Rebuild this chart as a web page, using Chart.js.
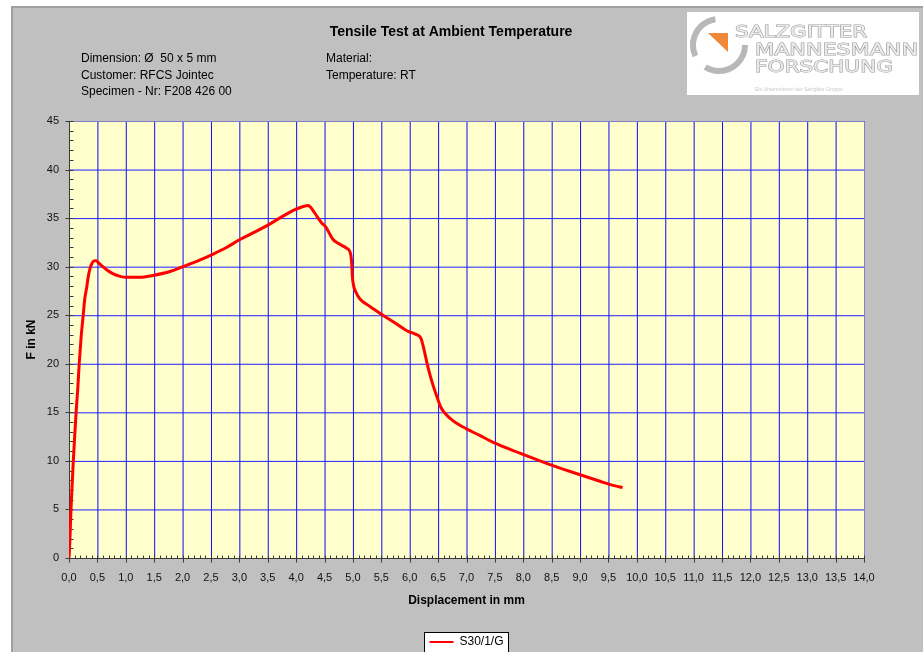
<!DOCTYPE html>
<html>
<head>
<meta charset="utf-8">
<script src="https://cdn.jsdelivr.net/npm/chart.js@4/dist/chart.umd.min.js"></script>
<style>
html,body{margin:0;padding:0;background:#fff;}
#wrap{width:923px;height:652px;position:relative;}
</style>
</head>
<body>
<div id="wrap"><canvas id="c" width="923" height="652"></canvas></div>
<script>
// ---- data ----
const seriesLabel = 'S30/1/G';
const displacementMm = [0,0.01,0.02,0.035,0.055,0.076,0.1,0.125,0.155,0.18,0.21,0.25,0.28,0.31,0.34,0.37,0.41,0.45,0.48,0.52,0.575,0.68,0.78,0.9,1.015,1.25,1.48,1.78,2.01,2.31,2.54,2.78,3.01,3.25,3.48,3.71,3.95,4.1,4.22,4.27,4.33,4.45,4.52,4.57,4.65,4.74,4.89,4.96,4.98,4.99,5.01,5.05,5.12,5.30,5.53,5.77,5.95,6.12,6.2,6.25,6.3,6.35,6.41,6.48,6.55,6.62,6.77,7.0,7.24,7.47,7.94,8.41,8.88,9.35,9.6,9.75];
const forceKN = [0,1,2.5,5,7.5,10,12.5,15,17.5,20,22.5,25,26.8,27.8,29,29.8,30.4,30.6,30.6,30.4,30.1,29.6,29.25,29.0,28.9,28.9,29.1,29.5,30.0,30.7,31.3,32.0,32.8,33.5,34.2,35.0,35.8,36.15,36.3,36.0,35.5,34.5,34.1,33.6,32.8,32.4,31.9,31.3,30.2,29,28.1,27.4,26.7,25.9,25.0,24.1,23.4,23.0,22.6,21.5,20.2,19.0,17.8,16.6,15.5,14.9,14.1,13.3,12.6,11.9,10.8,9.75,8.8,7.9,7.45,7.25];
const xMin = 0, xMax = 14, xStep = 0.5, xMinorStep = 0.1;
const yMin = 0, yMax = 45, yStep = 5, yMinorStep = 1;
const chartTitle = 'Tensile Test at Ambient Temperature';
const headerLeft = ['Dimension: Ø  50 x 5 mm', 'Customer: RFCS Jointec', 'Specimen - Nr: F208 426 00'];
const headerRight = ['Material:', 'Temperature: RT'];
const xAxisTitle = 'Displacement in mm';
const yAxisTitle = 'F in kN';
const logoLines = ['SALZGITTER', 'MANNESMANN', 'FORSCHUNG'];
const logoTagline = 'Ein Unternehmen der Salzgitter Gruppe';

const points = displacementMm.map((x, i) => ({x: x, y: forceKN[i]}));
const FONT = '"Liberation Sans", Arial, sans-serif';

const decor = {
  id: 'decor',
  beforeDraw(chart) {
    const ctx = chart.ctx;
    const W = chart.width, H = chart.height;
    ctx.save();
    ctx.fillStyle = '#ffffff';
    ctx.fillRect(0, 0, W, H);
    ctx.fillStyle = '#c0c0c0';
    ctx.fillRect(11, 6, W - 11, H - 6);
    ctx.strokeStyle = '#a0a0a0';
    ctx.lineWidth = 2;
    ctx.beginPath();
    ctx.moveTo(12, H); ctx.lineTo(12, 7); ctx.lineTo(W, 7);
    ctx.stroke();
    // plot background
    const a = chart.chartArea;
    ctx.fillStyle = '#ffffcc';
    ctx.fillRect(a.left, a.top, a.right - a.left, a.bottom - a.top);
    // legend box
    const lg = chart.legend;
    if (lg && lg.legendHitBoxes && lg.legendHitBoxes.length) {
      const hb = lg.legendHitBoxes[0];
      const bx = Math.round(hb.left - 5) + 0.5, by = Math.round(hb.top - 4) + 0.5;
      const bw = Math.round(hb.width + 10);
      ctx.fillStyle = '#ffffff';
      ctx.fillRect(bx, by, bw, H - by + 5);
      ctx.strokeStyle = '#000000';
      ctx.lineWidth = 1;
      ctx.strokeRect(bx, by, bw, H - by + 5);
    }
    // header text
    ctx.fillStyle = '#000';
    ctx.textBaseline = 'middle';
    ctx.textAlign = 'center';
    ctx.font = 'bold 14px ' + FONT;
    ctx.fillText(chartTitle, 451, 32);
    ctx.textAlign = 'left';
    ctx.font = '12px ' + FONT;
    headerLeft.forEach((t, i) => ctx.fillText(t, 81, 59 + i * 16.5));
    headerRight.forEach((t, i) => ctx.fillText(t, 326, 59 + i * 16.5));
    // logo
    ctx.fillStyle = '#ffffff';
    ctx.fillRect(687, 12, 232, 83);
    ctx.strokeStyle = '#b8b8b8';
    ctx.lineWidth = 6;
    ctx.lineCap = 'butt';
    ctx.beginPath();
    ctx.arc(719, 45, 26, Math.PI * 155 / 180, Math.PI * 262 / 180);
    ctx.stroke();
    ctx.beginPath();
    ctx.arc(719, 45, 26, Math.PI * 0 / 180, Math.PI * 122 / 180);
    ctx.stroke();
    ctx.fillStyle = '#f0883a';
    ctx.beginPath();
    ctx.moveTo(708, 33); ctx.lineTo(728, 33); ctx.lineTo(728, 52); ctx.closePath();
    ctx.fill();
    const drawWide = (txt, x, y, w, size) => {
      ctx.save();
      ctx.font = size + 'px "DejaVu Sans", sans-serif';
      const mw = ctx.measureText(txt).width;
      ctx.translate(x, y);
      ctx.scale(w / mw, 1);
      ctx.textAlign = 'left';
      ctx.textBaseline = 'alphabetic';
      ctx.lineWidth = 1;
      ctx.strokeStyle = '#9a9a9a';
      ctx.strokeText(txt, 0, 0);
      ctx.fillStyle = '#ececec';
      ctx.fillText(txt, 0, 0);
      ctx.restore();
    };
    drawWide(logoLines[0], 735, 37, 132, 16);
    drawWide(logoLines[1], 755, 55, 163, 16);
    drawWide(logoLines[2], 755, 72, 138, 16);
    ctx.fillStyle = '#c8c8c8';
    ctx.font = '5px ' + FONT;
    ctx.textBaseline = 'middle';
    ctx.textAlign = 'left';
    ctx.fillText(logoTagline, 755, 90, 163);
    ctx.restore();
  },
  beforeDatasetsDraw(chart) {
    const ctx = chart.ctx;
    const a = chart.chartArea;
    const xs = chart.scales.x, ys = chart.scales.y;
    ctx.save();
    // grid lines from the scales' ticks (unrounded, like the scaled original)
    ctx.lineWidth = 1;
    ctx.strokeStyle = '#0a0aff';
    ctx.beginPath();
    xs.ticks.forEach(t => {
      const px = xs.getPixelForValue(t.value) + 0.5;
      ctx.moveTo(px, a.top); ctx.lineTo(px, a.bottom);
    });
    ctx.stroke();
    ctx.strokeStyle = '#2020ff';
    ctx.beginPath();
    ys.ticks.forEach(t => {
      const py = ys.getPixelForValue(t.value) + 0.5;
      ctx.moveTo(a.left, py); ctx.lineTo(a.right, py);
    });
    ctx.stroke();
    // plot frame top/right
    ctx.strokeStyle = '#8080c8';
    ctx.beginPath();
    ctx.moveTo(a.left, Math.round(a.top) + 0.5);
    ctx.lineTo(Math.round(a.right) + 0.5, Math.round(a.top) + 0.5);
    ctx.lineTo(Math.round(a.right) + 0.5, a.bottom);
    ctx.stroke();
    // axes
    ctx.strokeStyle = '#3a3a3a';
    const L = Math.round(a.left) + 0.5, B = Math.round(a.bottom) + 0.5;
    ctx.beginPath();
    ctx.moveTo(L, a.top); ctx.lineTo(L, B); ctx.lineTo(a.right + 1, B);
    for (let i = 0; i <= Math.round((yMax - yMin) / yMinorStep); i++) {
      const v = yMin + i * yMinorStep;
      const py = Math.round(ys.getPixelForValue(v)) + 0.5;
      const major = i % Math.round(yStep / yMinorStep) === 0;
      if (major) { ctx.moveTo(L - 4, py); ctx.lineTo(L + 4, py); }
      else { ctx.moveTo(L, py); ctx.lineTo(L + 4, py); }
    }
    for (let i = 0; i <= Math.round((xMax - xMin) / xMinorStep); i++) {
      const v = xMin + i * xMinorStep;
      const px = Math.round(xs.getPixelForValue(v)) + 0.5;
      const major = i % Math.round(xStep / xMinorStep) === 0;
      if (major) { ctx.moveTo(px, B - 3); ctx.lineTo(px, B + 4); }
      else { ctx.moveTo(px, B - 3); ctx.lineTo(px, B); }
    }
    ctx.stroke();
    ctx.restore();
  }
};

new Chart(document.getElementById('c'), {
  type: 'scatter',
  data: {
    datasets: [{
      label: seriesLabel,
      data: points,
      showLine: true,
      borderColor: '#ff0000',
      backgroundColor: '#ff0000',
      borderWidth: 3,
      pointRadius: 0,
      cubicInterpolationMode: 'monotone'
    }]
  },
  options: {
    responsive: false,
    animation: false,
    devicePixelRatio: 1,
    layout: { padding: { left: 0, top: 121, right: 59, bottom: -6 } },
    plugins: {
      title: { display: false },
      tooltip: { enabled: false },
      legend: {
        display: true,
        position: 'bottom',
        fullSize: false,
        labels: {
          boxWidth: 24, boxHeight: 2, padding: 4,
          color: '#000',
          font: { family: FONT, size: 12 },
          generateLabels(chart) {
            const items = Chart.defaults.plugins.legend.labels.generateLabels(chart);
            return items.map(it => Object.assign(it, { lineWidth: 0, strokeStyle: 'rgba(0,0,0,0)' }));
          }
        }
      }
    },
    scales: {
      x: {
        type: 'linear', min: xMin, max: xMax,
        afterFit(s) { s.height = 74; },
        border: { display: false },
        grid: { display: false, drawTicks: false },
        ticks: {
          stepSize: xStep, autoSkip: false, maxRotation: 0, minRotation: 0,
          padding: 13, color: '#111',
          font: { family: FONT, size: 11 },
          callback: (v) => Number(v).toFixed(1).replace('.', ',')
        },
        title: {
          display: true, text: xAxisTitle, color: '#000',
          font: { family: FONT, size: 12, weight: 'bold' },
          padding: { top: 0, bottom: 24 }
        }
      },
      y: {
        type: 'linear', min: yMin, max: yMax,
        afterFit(s) { s.width = 69; },
        border: { display: false },
        grid: { display: false, drawTicks: false },
        ticks: {
          stepSize: yStep, autoSkip: false, padding: 10, color: '#111',
          font: { family: FONT, size: 11 }
        },
        title: {
          display: true, text: yAxisTitle, color: '#000',
          font: { family: FONT, size: 12, weight: 'bold' },
          padding: { top: 24, bottom: 0 }
        }
      }
    }
  },
  plugins: [decor]
});
</script>
</body>
</html>
